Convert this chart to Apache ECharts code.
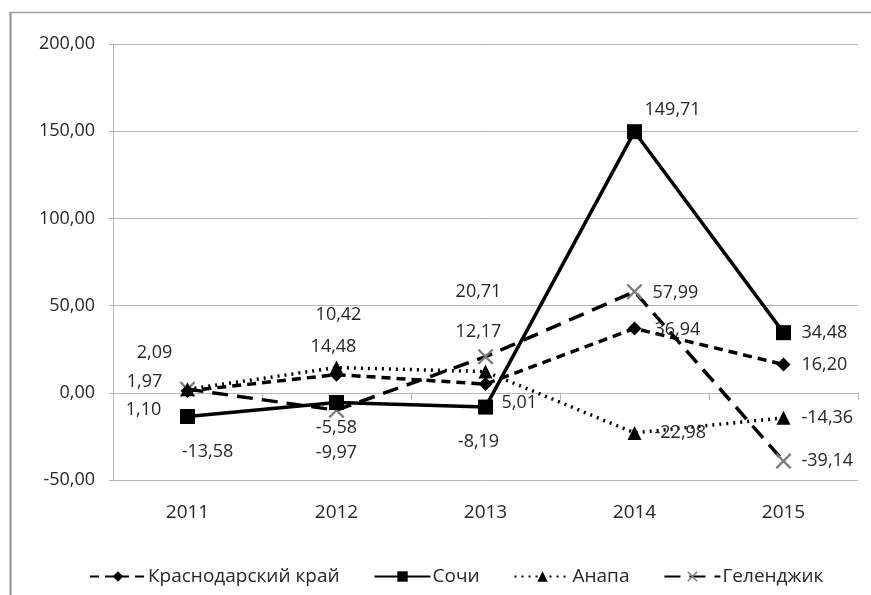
<!DOCTYPE html>
<html>
<head>
<meta charset="utf-8">
<script src="https://cdn.jsdelivr.net/npm/echarts@6/dist/echarts.min.js"></script>
<style>
html,body{margin:0;padding:0;background:#fff;}
#c{width:871px;height:595px;}
</style>
</head>
<body>
<div id="c"></div>
<script>
// ---- data ----
var years = ['2011', '2012', '2013', '2014', '2015'];
var seriesNames = ['Краснодарский край', 'Сочи', 'Анапа', 'Геленджик'];
var krasnodar = [1.10, 10.42, 5.01, 36.94, 16.20];
var sochi = [-13.58, -5.58, -8.19, 149.71, 34.48];
var anapa = [1.97, 14.48, 12.17, -22.98, -14.36];
var gelendzhik = [2.09, -9.97, 20.71, 57.99, -39.14];
var yTicks = {min: -50, max: 200, step: 50};

// ---- label placement (pixel offsets from point; styling only) ----
var labelPlace = {
  krasnodar: [[-44, 19, 'center'], [2, -60, 'center'], [16, 19, 'left'], [20, 1, 'left'], [18, 0, 'left']],
  sochi: [[20, 35, 'center'], [0, 25, 'center'], [-7, 35, 'center'], [10, -22, 'left'], [18, 0, 'left']],
  anapa: [[-43, -7, 'center'], [-3, -21, 'center'], [-7, -40, 'center'], [20, 0, 'left'], [18, 0, 'left']],
  gelendzhik: [[-33, -36, 'center'], [0, 43, 'center'], [-7, -65, 'center'], [18, 1, 'left'], [18, 0, 'left']]
};

var FONT = 'Open Sans';
var TXT = '#262626';
var GRID = '#b4b4b4';

function fmt(v) { return v.toFixed(2).replace('.', ','); }

function buildData(values, places) {
  return values.map(function (v, i) {
    var p = places[i];
    return {
      value: v,
      label: {
        show: true,
        position: 'inside',
        offset: [p[0], p[1]],
        align: p[2],
        verticalAlign: 'middle'
      }
    };
  });
}

var xShape = 'path://M2,0 L10,8 L18,0 L20,2 L12,10 L20,18 L18,20 L10,12 L2,20 L0,18 L8,10 L0,2 Z';

var labelCommon = {
  fontFamily: FONT,
  fontSize: 18,
  color: TXT,
  formatter: function (p) { return fmt(p.value); }
};

function mkSeries(name, values, places, opts) {
  return {
    name: name,
    type: 'line',
    xAxisIndex: 0,
    data: buildData(values, places),
    symbol: opts.symbol,
    symbolSize: opts.size,
    lineStyle: {color: '#000', width: 3.5, type: opts.dash, cap: 'butt'},
    itemStyle: {color: opts.markColor},
    label: labelCommon,
    emphasis: {disabled: true},
    z: opts.z,
    animation: false
  };
}

var chart = echarts.init(document.getElementById('c'), null, {renderer: 'canvas'});
chart.setOption({
  backgroundColor: '#fff',
  animation: false,
  textStyle: {fontFamily: FONT},
  grid: {left: 113, right: 13, top: 44, bottom: 115, containLabel: false},
  graphic: [
    {type: 'line', shape: {x1: 10, y1: 12.5, x2: 871, y2: 12.5}, style: {stroke: '#a0a0a0', lineWidth: 1.5}, silent: true},
    {type: 'line', shape: {x1: 10.5, y1: 12, x2: 10.5, y2: 595}, style: {stroke: '#909090', lineWidth: 2}, silent: true}
  ],
  legend: {
    data: seriesNames,
    left: 84,
    top: 562,
    itemWidth: 56,
    itemHeight: 13,
    itemGap: 34,
    textStyle: {fontFamily: FONT, fontSize: 19, color: TXT, padding: [0, 0, 0, -3]},
    selectedMode: false
  },
  xAxis: [
    {
      type: 'category',
      data: years,
      position: 'bottom',
      boundaryGap: true,
      axisLine: {show: false, onZero: false},
      axisTick: {show: false},
      splitLine: {show: false},
      axisLabel: {fontFamily: FONT, fontSize: 19, color: TXT, margin: 23, interval: 0}
    },
    {
      type: 'category',
      data: years,
      position: 'bottom',
      boundaryGap: true,
      axisLine: {show: true, onZero: true, lineStyle: {color: GRID, width: 1}},
      axisTick: {show: true, length: 7, interval: 0, lineStyle: {color: GRID}},
      axisLabel: {show: false},
      splitLine: {show: false}
    }
  ],
  yAxis: {
    type: 'value',
    min: yTicks.min,
    max: yTicks.max,
    interval: yTicks.step,
    axisLine: {show: true, lineStyle: {color: GRID, width: 1}},
    axisTick: {show: true, length: 4, lineStyle: {color: GRID}},
    splitLine: {show: true, lineStyle: {color: GRID, width: 1}},
    axisLabel: {
      fontFamily: FONT, fontSize: 18, color: TXT, margin: 18,
      formatter: function (v) { return fmt(v); }
    }
  },
  series: [
    mkSeries(seriesNames[0], krasnodar, labelPlace.krasnodar, {symbol: 'diamond', size: 14, dash: [9, 6], markColor: '#000', z: 3}),
    mkSeries(seriesNames[1], sochi, labelPlace.sochi, {symbol: 'rect', size: 15, dash: 'solid', markColor: '#000', z: 4}),
    mkSeries(seriesNames[2], anapa, labelPlace.anapa, {symbol: 'triangle', size: 14, dash: [2, 5], markColor: '#000', z: 3}),
    mkSeries(seriesNames[3], gelendzhik, labelPlace.gelendzhik, {symbol: xShape, size: 16, dash: [16, 9], markColor: '#7a7a7a', z: 2})
  ]
});
</script>
</body>
</html>
